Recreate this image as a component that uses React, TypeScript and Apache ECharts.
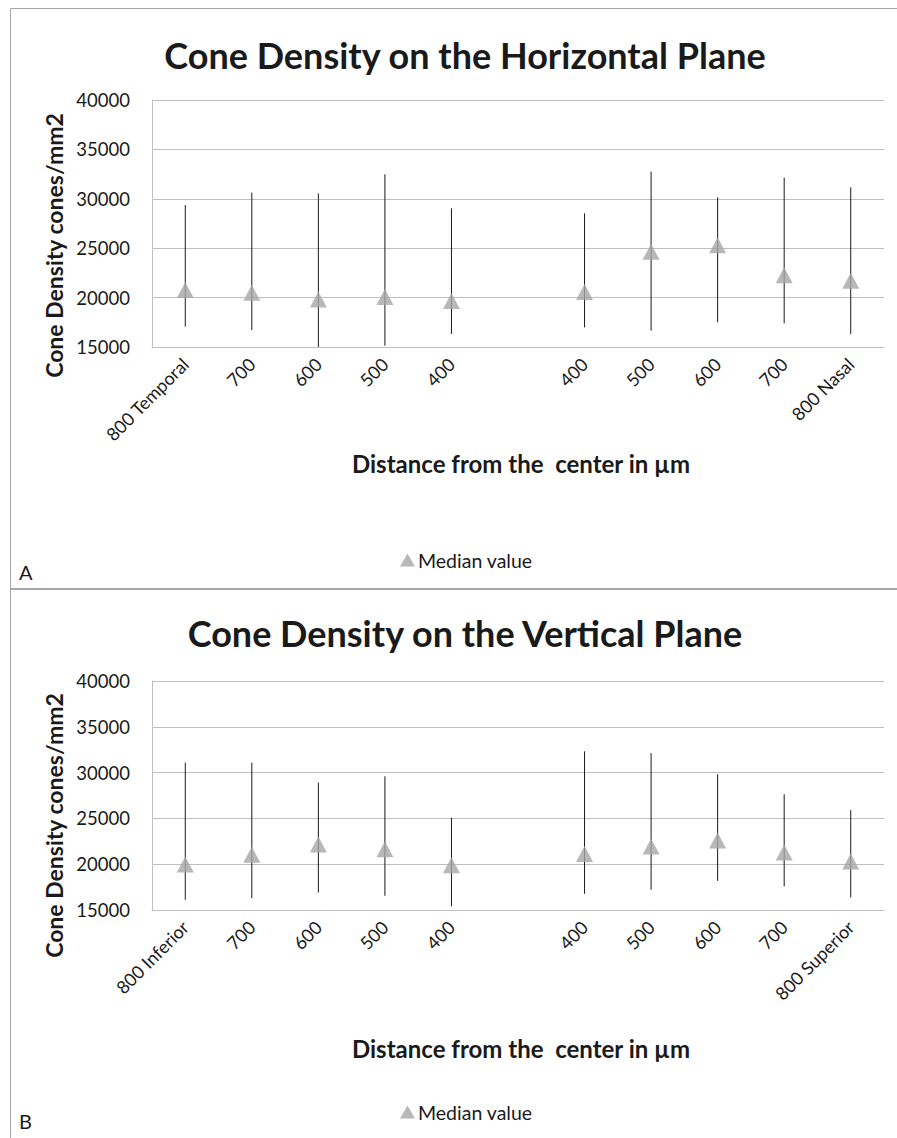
import React, { useEffect, useRef } from "react";
import * as echarts from "echarts";

// Panel A: horizontal plane
const horizontalCategories = ["800 Temporal", "700", "600", "500", "400", "", "400", "500", "600", "700", "800 Nasal"];
const horizontalMedian = [20770, 20480, 19800, 20060, 19650, null, 20570, 24640, 25290, 22260, 21700];
const horizontalLow = [17050, 16720, 15000, 15130, 16320, null, 16990, 16650, 17500, 17400, 16320];
const horizontalHigh = [29370, 30620, 30550, 32480, 29040, null, 28530, 32750, 30150, 32150, 31160];

// Panel B: vertical plane
const verticalCategories = ["800 Inferior", "700", "600", "500", "400", "", "400", "500", "600", "700", "800 Superior"];
const verticalMedian = [19960, 21040, 22150, 21640, 19890, null, 21120, 21940, 22590, 21280, 20300];
const verticalLow = [16120, 16300, 16910, 16550, 15400, null, 16770, 17210, 18180, 17570, 16370];
const verticalHigh = [31090, 31090, 28910, 29600, 25070, null, 32320, 32130, 29820, 27640, 25900];

const yMin = 15000;
const yMax = 40000;
const yInterval = 5000;

const titleA = "Cone Density on the Horizontal Plane";
const titleB = "Cone Density on the Vertical Plane";
const yTitle = "Cone Density cones/mm2";
const xTitle = "Distance from the  center in µm";
const seriesName = "Median value";

const FONT = "Lato";
const GRID = "#bfbfbf";
const TRI = "#a6a6a6";
const FRAME = "#a6a6a6";
const INK = "#1a1a1a";

function medianData(vals: (number | null)[]) {
  const out: any[] = [];
  vals.forEach((v, i) => {
    if (v !== null) out.push([i, v]);
  });
  return out;
}
function rangeData(lo: (number | null)[], hi: (number | null)[]) {
  const out: any[] = [];
  lo.forEach((v, i) => {
    const h = hi[i];
    if (v !== null && h !== null) out.push([i, v, h]);
  });
  return out;
}

const renderBar = (params: any, api: any) => {
  const x = api.value(0);
  const lo = api.coord([x, api.value(1)]);
  const hi = api.coord([x, api.value(2)]);
  return {
    type: "line",
    shape: { x1: lo[0], y1: lo[1], x2: hi[0], y2: hi[1] },
    style: { stroke: INK, lineWidth: 1 },
  };
};

export default function App() {
  const ref = useRef<HTMLDivElement>(null);
  useEffect(() => {
    document.body.style.margin = "0";
    if (!ref.current) return;
    const chart = echarts.init(ref.current, null, { renderer: "svg" });

    const xAxisCommon = (cats: string[], idx: number) => ({
      type: "category",
      gridIndex: idx,
      data: cats,
      boundaryGap: true,
      axisLine: { show: true, lineStyle: { color: GRID, width: 1 } },
      axisTick: { show: false },
      axisLabel: {
        interval: 0,
        rotate: 45,
        margin: 14,
        fontFamily: FONT,
        fontSize: 18,
        color: INK,
      },
      splitLine: { show: false },
    });
    const yAxisCommon = (idx: number) => ({
      type: "value",
      gridIndex: idx,
      min: yMin,
      max: yMax,
      interval: yInterval,
      axisLine: { show: true, lineStyle: { color: GRID, width: 1 } },
      axisTick: { show: false },
      axisLabel: {
        margin: 22,
        fontFamily: FONT,
        fontSize: 18.5,
        color: INK,
        formatter: (v: number) => String(v),
      },
      splitLine: { show: true, lineStyle: { color: GRID, width: 1 } },
    });

    const legendCommon = (top: number) => ({
      data: [{ name: seriesName, icon: "triangle" }],
      left: 395,
      top,
      itemWidth: 15,
      itemHeight: 13,
      itemGap: 4,
      textStyle: { fontFamily: FONT, fontSize: 19.5, color: INK, padding: [0, 0, 0, -2] },
    });

    const text = (x: number, y: number, t: string, font: string, extra: any = {}) => ({
      type: "text",
      x,
      y,
      ...extra,
      style: { text: t, font, fill: INK, textAlign: "center", textVerticalAlign: "middle" },
    });

    const option: any = {
      animation: false,
      backgroundColor: "#ffffff",
      textStyle: { fontFamily: FONT },
      grid: [
        { left: 152, right: 13, top: 100, height: 247 },
        { left: 152, right: 13, top: 681, height: 229 },
      ],
      xAxis: [xAxisCommon(horizontalCategories, 0), xAxisCommon(verticalCategories, 1)],
      yAxis: [yAxisCommon(0), yAxisCommon(1)],
      legend: [legendCommon(545), legendCommon(1097)],
      series: [
        {
          type: "custom",
          name: "rangeA",
          xAxisIndex: 0,
          yAxisIndex: 0,
          renderItem: renderBar,
          encode: { x: 0, y: [1, 2] },
          data: rangeData(horizontalLow, horizontalHigh),
          z: 2,
        },
        {
          type: "scatter",
          name: seriesName,
          xAxisIndex: 0,
          yAxisIndex: 0,
          symbol: "triangle",
          symbolSize: [17, 16],
          itemStyle: { color: TRI },
          data: medianData(horizontalMedian),
          z: 3,
        },
        {
          type: "custom",
          name: "rangeB",
          xAxisIndex: 1,
          yAxisIndex: 1,
          renderItem: renderBar,
          encode: { x: 0, y: [1, 2] },
          data: rangeData(verticalLow, verticalHigh),
          z: 2,
        },
        {
          type: "scatter",
          name: seriesName,
          xAxisIndex: 1,
          yAxisIndex: 1,
          symbol: "triangle",
          symbolSize: [17, 16],
          itemStyle: { color: TRI },
          data: medianData(verticalMedian),
          z: 3,
        },
      ],
      graphic: [
        // frame
        { type: "line", shape: { x1: 10.5, y1: 8.5, x2: 897, y2: 8.5 }, style: { stroke: FRAME, lineWidth: 1 } },
        { type: "line", shape: { x1: 10.5, y1: 8.5, x2: 10.5, y2: 1138 }, style: { stroke: FRAME, lineWidth: 1 } },
        { type: "line", shape: { x1: 10.5, y1: 589, x2: 897, y2: 589 }, style: { stroke: FRAME, lineWidth: 2 } },
        // titles
        text(465, 55, titleA, `bold 36px ${FONT}`),
        text(465, 633, titleB, `bold 36px ${FONT}`),
        // y axis titles
        text(54, 245.5, yTitle, `bold 23px ${FONT}`, { rotation: Math.PI / 2 }),
        text(54, 825.5, yTitle, `bold 23px ${FONT}`, { rotation: Math.PI / 2 }),
        // x axis titles
        text(521, 463, xTitle, `bold 24px ${FONT}`),
        text(521, 1048, xTitle, `bold 24px ${FONT}`),
        // panel letters
        {
          type: "text",
          x: 19,
          y: 572,
          style: { text: "A", font: `20px ${FONT}`, fill: INK, textAlign: "left", textVerticalAlign: "middle" },
        },
        {
          type: "text",
          x: 19,
          y: 1121,
          style: { text: "B", font: `20px ${FONT}`, fill: INK, textAlign: "left", textVerticalAlign: "middle" },
        },
      ],
    };
    chart.setOption(option);
    return () => chart.dispose();
  }, []);
  return <div ref={ref} style={{ width: 897, height: 1138 }} />;
}
